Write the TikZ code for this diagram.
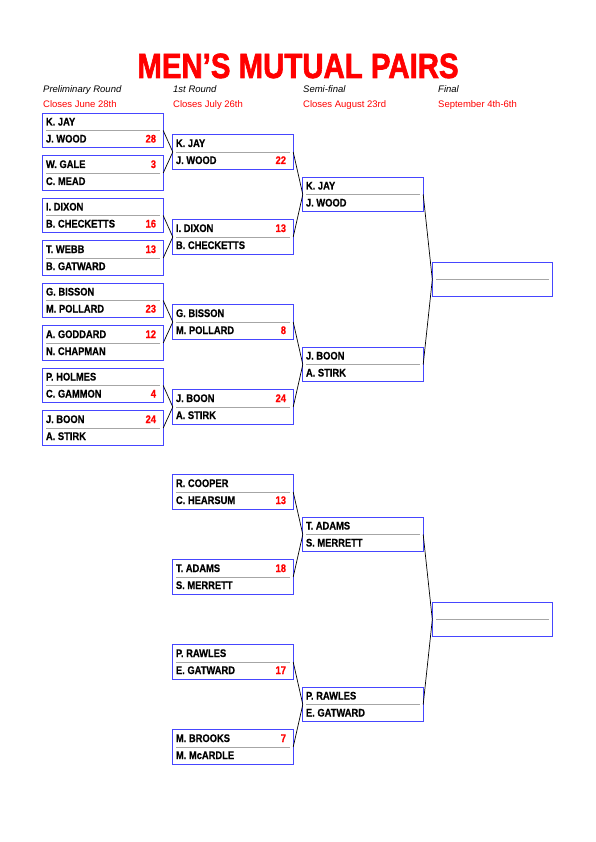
\documentclass[tikz,border=0pt]{standalone}
\usepackage{fontspec}
\setmainfont{Liberation Sans}
\newfontfamily\titlefont[FakeBold=2]{Liberation Sans Bold}
\newfontfamily\namefont[FakeBold=0.6]{Liberation Sans Bold}
\definecolor{boxblue}{RGB}{70,70,255}
\definecolor{titlered}{rgb}{1,0,0}
\tikzset{
  pairbox/.style={minimum width=120pt, minimum height=34pt, inner sep=0pt},
  boxline/.style={draw=boxblue, line width=1pt},
  sepline/.style={draw=gray!70, line width=0.7pt},
  namerow/.style={anchor=base west, inner sep=0pt, xscale=0.85, font=\fontsize{11}{13}\namefont},
  scorerow/.style={anchor=base east, inner sep=0pt, xscale=0.85, text=titlered, font=\fontsize{11}{13}\namefont\pgfsetstrokecolor{titlered}},
  roundlabel/.style={anchor=base west, inner sep=0pt, font=\fontsize{9.5}{11}\selectfont\itshape},
  closelabel/.style={anchor=base west, inner sep=0pt, text=titlered, font=\fontsize{9.5}{11}\selectfont},
  feed/.style={draw=black, line width=0.7pt}
}
% one pair: name, x, y, top player, bottom player
\newcommand{\pairbox}[5]{%
  \node[pairbox] (#1) at (#2,#3) {};
  \node[namerow] (#1a) at ([xshift=3pt,yshift=5pt]#1.west) {#4};
  \node[namerow] (#1b) at ([xshift=3pt,yshift=-12pt]#1.west) {#5};
  \draw[sepline] ([xshift=3pt]#1.west) -- ([xshift=-3pt]#1.east);
  \draw[boxline] (#1.north west) rectangle (#1.south east);
}
\begin{document}
\begin{tikzpicture}[x=1pt, y=-1pt]
    \useasboundingbox (0,0) rectangle (595,842);
    \node[anchor=base, inner sep=0pt, xscale=0.84, text=titlered, font=\fontsize{35}{40}\titlefont\pgfsetstrokecolor{titlered}] (title) at (298,78) {MEN’S MUTUAL PAIRS};
    % round headings
    \node[roundlabel] (h1) at (43,93) {Preliminary Round};
    \node[roundlabel] (h2) at (173,93) {1st Round};
    \node[roundlabel] (h3) at (303,93) {Semi-final};
    \node[roundlabel] (h4) at (438,93) {Final};
    \node[closelabel] (c1) at (43,108) {Closes June 28th};
    \node[closelabel] (c2) at (173,108) {Closes July 26th};
    \node[closelabel] (c3) at (303,108) {Closes August 23rd};
    \node[closelabel] (c4) at (438,108) {September 4th-6th};
    % preliminary round
    \pairbox{pr1}{103}{130.5}{K. JAY}{J. WOOD}
    \pairbox{pr2}{103}{173}{W. GALE}{C. MEAD}
    \pairbox{pr3}{103}{215.5}{I. DIXON}{B. CHECKETTS}
    \pairbox{pr4}{103}{258}{T. WEBB}{B. GATWARD}
    \pairbox{pr5}{103}{300.5}{G. BISSON}{M. POLLARD}
    \pairbox{pr6}{103}{343}{A. GODDARD}{N. CHAPMAN}
    \pairbox{pr7}{103}{385.5}{P. HOLMES}{C. GAMMON}
    \pairbox{pr8}{103}{428}{J. BOON}{A. STIRK}
    \node[scorerow] (pr1s) at ([xshift=-7pt,yshift=-12pt]pr1.east) {28};
    \node[scorerow] (pr2s) at ([xshift=-7pt,yshift=5pt]pr2.east) {3};
    \node[scorerow] (pr3s) at ([xshift=-7pt,yshift=-12pt]pr3.east) {16};
    \node[scorerow] (pr4s) at ([xshift=-7pt,yshift=5pt]pr4.east) {13};
    \node[scorerow] (pr5s) at ([xshift=-7pt,yshift=-12pt]pr5.east) {23};
    \node[scorerow] (pr6s) at ([xshift=-7pt,yshift=5pt]pr6.east) {12};
    \node[scorerow] (pr7s) at ([xshift=-7pt,yshift=-12pt]pr7.east) {4};
    \node[scorerow] (pr8s) at ([xshift=-7pt,yshift=5pt]pr8.east) {24};
    % first round
    \pairbox{ro1}{233}{152}{K. JAY}{J. WOOD}
    \pairbox{ro2}{233}{237}{I. DIXON}{B. CHECKETTS}
    \pairbox{ro3}{233}{322}{G. BISSON}{M. POLLARD}
    \pairbox{ro4}{233}{407}{J. BOON}{A. STIRK}
    \pairbox{ro5}{233}{492}{R. COOPER}{C. HEARSUM}
    \pairbox{ro6}{233}{577}{T. ADAMS}{S. MERRETT}
    \pairbox{ro7}{233}{662}{P. RAWLES}{E. GATWARD}
    \pairbox{ro8}{233}{747}{M. BROOKS}{M. McARDLE}
    \node[scorerow] (ro1s) at ([xshift=-7pt,yshift=-12pt]ro1.east) {22};
    \node[scorerow] (ro2s) at ([xshift=-7pt,yshift=5pt]ro2.east) {13};
    \node[scorerow] (ro3s) at ([xshift=-7pt,yshift=-12pt]ro3.east) {8};
    \node[scorerow] (ro4s) at ([xshift=-7pt,yshift=5pt]ro4.east) {24};
    \node[scorerow] (ro5s) at ([xshift=-7pt,yshift=-12pt]ro5.east) {13};
    \node[scorerow] (ro6s) at ([xshift=-7pt,yshift=5pt]ro6.east) {18};
    \node[scorerow] (ro7s) at ([xshift=-7pt,yshift=-12pt]ro7.east) {17};
    \node[scorerow] (ro8s) at ([xshift=-7pt,yshift=5pt]ro8.east) {7};
    % semi-finals
    \pairbox{sf1}{363}{194.5}{K. JAY}{J. WOOD}
    \pairbox{sf2}{363}{364.5}{J. BOON}{A. STIRK}
    \pairbox{sf3}{363}{534.5}{T. ADAMS}{S. MERRETT}
    \pairbox{sf4}{363}{704.5}{P. RAWLES}{E. GATWARD}
    % final
    \node[pairbox] (fi1) at (492.5,279.5) {};
    \draw[sepline] ([xshift=4pt]fi1.west) -- ([xshift=-4pt]fi1.east);
    \draw[boxline] (fi1.north west) rectangle (fi1.south east);
    \node[pairbox] (fi2) at (492.5,619.5) {};
    \draw[sepline] ([xshift=4pt]fi2.west) -- ([xshift=-4pt]fi2.east);
    \draw[boxline] (fi2.north west) rectangle (fi2.south east);
    % feeders
    \draw[feed] (pr1.east) -- (ro1.west);
    \draw[feed] (pr2.east) -- (ro1.west);
    \draw[feed] (pr3.east) -- (ro2.west);
    \draw[feed] (pr4.east) -- (ro2.west);
    \draw[feed] (pr5.east) -- (ro3.west);
    \draw[feed] (pr6.east) -- (ro3.west);
    \draw[feed] (pr7.east) -- (ro4.west);
    \draw[feed] (pr8.east) -- (ro4.west);
    \draw[feed] (ro1.east) -- (sf1.west);
    \draw[feed] (ro2.east) -- (sf1.west);
    \draw[feed] (ro3.east) -- (sf2.west);
    \draw[feed] (ro4.east) -- (sf2.west);
    \draw[feed] (ro5.east) -- (sf3.west);
    \draw[feed] (ro6.east) -- (sf3.west);
    \draw[feed] (ro7.east) -- (sf4.west);
    \draw[feed] (ro8.east) -- (sf4.west);
    \draw[feed] (sf1.east) -- (fi1.west);
    \draw[feed] (sf2.east) -- (fi1.west);
    \draw[feed] (sf3.east) -- (fi2.west);
    \draw[feed] (sf4.east) -- (fi2.west);
\end{tikzpicture}
\end{document}
